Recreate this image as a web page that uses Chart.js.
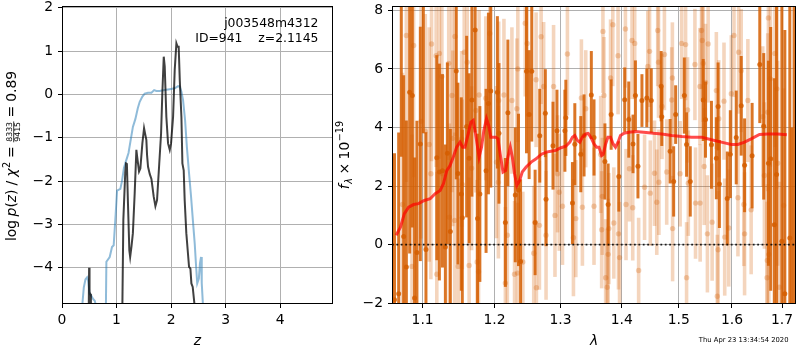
<!DOCTYPE html>
<html><head><meta charset="utf-8">
<script src="https://cdn.jsdelivr.net/npm/chart.js@4.4.1/dist/chart.umd.min.js"></script>
<style>
html,body{margin:0;padding:0;background:#fff;width:800px;height:350px;overflow:hidden;}
#wrapL{position:absolute;left:0;top:0;width:340px;height:350px;}
#wrapR{position:absolute;left:320px;top:0;width:480px;height:350px;}
</style></head><body>
<div id="wrapL"><canvas id="cL" width="340" height="350"></canvas></div>
<div id="wrapR"><canvas id="cR" width="480" height="350"></canvas></div>
<script>
// ---------- Left panel: log p(z) ----------
const zTicks = [0, 1, 2, 3, 4];
const logpTicks = [-4, -3, -2, -1, 0, 1, 2];
const zBlue = [0.30,0.374,0.40,0.43,0.46,0.48,0.505,0.54,0.57,0.60,0.63,0.66,0.78,0.805,0.814,0.875,0.917,0.948,0.985,1.01,1.07,1.10,1.135,1.17,1.22,1.26,1.30,1.345,1.39,1.425,1.474,1.517,1.578,1.64,1.69,1.73,1.79,1.88,1.976,2.067,2.13,2.16,2.19,2.22,2.257,2.29,2.33,2.367,2.40,2.434,2.46,2.48,2.51,2.53,2.55,2.563,2.587,2.62];
const pBlue = [-6.5,-4.83,-4.45,-4.27,-4.22,-4.30,-4.60,-4.65,-4.72,-4.76,-4.90,-6.5,-6.5,-4.90,-3.86,-3.75,-3.52,-3.48,-2.75,-2.22,-2.18,-2.00,-1.70,-1.55,-1.35,-1.05,-0.75,-0.57,-0.32,-0.17,-0.05,0.02,0.04,0.04,0.10,0.08,0.08,0.10,0.12,0.14,0.19,0.18,0.06,-0.13,-0.59,-1.21,-1.82,-2.36,-2.90,-3.44,-3.98,-4.36,-4.25,-3.90,-3.75,-4.36,-4.90,-6.5];
const zBlack = [0.48,0.497,0.505,0.515,0.53,
  1.09,1.107,1.125,1.16,1.175,1.19,1.21,1.235,1.25,1.275,
  1.30,1.333,1.364,1.38,1.413,1.437,1.474,1.505,1.523,1.547,
  1.56,1.578,1.61,1.64,1.682,1.713,1.743,1.78,1.817,1.84,
  1.866,1.884,1.914,1.945,1.976,2.0,2.037,2.067,2.098,2.12,
  2.14,2.16,2.19,2.208,2.232,2.25,2.28,2.31,2.33,2.355,
  2.373,2.397,2.434,2.46];
const pBlack = [-6.5,-4.0,-4.55,-4.6,-6.5,
  -6.5,-4.9,-2.9,-1.8,-1.59,-1.6,-2.52,-3.6,-3.75,-3.5,
  -3.2,-2.28,-1.28,-1.45,-1.78,-1.71,-1.13,-0.78,-0.9,-1.05,
  -1.4,-1.67,-1.84,-1.95,-2.36,-2.58,-2.44,-1.67,-0.9,0.02,
  0.87,0.64,-0.52,-1.13,-1.28,-1.13,-0.52,0.56,1.18,1.1,
  1.1,0.33,-0.52,-1.59,-1.75,-2.44,-3.2,-3.67,-3.98,-4.02,
  -4.36,-4.44,-4.9,-6.5];
const objName = 'j003548m4312';
const idLine = 'ID=941    z=2.1145';

// ---------- Right panel: spectrum ----------
const lamTicks = [1.1, 1.2, 1.3, 1.4, 1.5, 1.6, 1.7];
const fluxTicks = [-2, 0, 2, 4, 6, 8];
const lamRange = [1.06, 1.729];
const fluxRange = [-2.024, 8.147];
const zeroLevel = [0, 0];

const darkLam = [1.0600,1.0632,1.0686,1.0720,1.0751,1.0786,1.0829,1.0864,1.0894,1.0925,1.0970,1.1010,1.1045,
  1.1191,1.1226,1.1268,1.1308,1.1335,1.1376,1.1458,1.1481,1.1528,1.1542,1.1603,1.1638,1.1677,1.1723,1.1757,1.1790,1.1879,1.1913,1.1947,
  1.2043,1.2066,1.2160,1.2197,1.2307,1.2355,1.2386,1.2475,1.2515,1.2555,1.2606,
  1.2677,1.2763,1.2774,1.2882,1.2944,1.3069,1.3084,1.3189,1.3227,1.3323,1.3376,1.3494,1.3538,
  1.3718,1.3772,1.3822,1.3951,1.4051,1.4120,1.4193,1.4234,1.4278,1.4347,1.4432,1.4510,1.4685,1.4696,1.4845,1.4909,1.4945,1.5103,1.5144,1.5212,
  1.5452,1.5495,1.5607,1.5700,1.5733,1.5758,1.5909,1.5968,1.6083,1.6180,1.6246,1.6395,
  1.6548,1.6627,1.6722,1.6768,1.6842,1.6888,1.6997,1.7058,1.7161,1.7200,1.7250];
const darkFlux = [-3.0,-1.88,-1.67,9.0,0.28,-0.76,5.20,5.09,-1.82,-0.27,3.44,8.8,-0.16,
  2.97,2.48,2.52,-0.08,3.12,0.45,5.93,2.43,1.73,0.92,4.03,2.95,4.94,7.33,0.89,1.73,2.52,4.82,5.25,
  5.20,3.80,0.76,4.50,1.70,1.87,-0.57,5.92,4.44,5.92,0.76,
  3.72,4.49,1.55,3.38,3.89,3.89,4.33,1.42,3.43,3.09,3.73,5.11,3.66,
  2.84,1.37,4.44,2.33,4.95,4.27,3.44,5.09,2.68,4.92,5.01,4.92,5.41,4.37,3.19,2.16,4.44,5.09,3.42,2.16,
  4.94,4.27,3.41,2.95,4.72,2.07,1.58,3.09,3.66,4.74,2.71,3.04,
  6.15,4.04,2.78,2.93,0.68,2.40,0.12,-1.67,0.23,-4.0,9.0];
const darkErr = [6.0,5.0,5.5,6.0,5.5,5.0,5.5,4.5,4.8,4.5,4.0,5.0,4.0,
  3.5,3.7,3.3,3.5,3.1,3.5,3.7,3.1,3.3,3.0,3.1,2.9,3.3,3.5,2.9,3.0,2.8,3.1,3.3,
  2.6,2.4,2.2,2.5,2.3,2.6,2.8,2.8,2.2,2.4,1.8,
  1.6,1.5,1.6,1.5,1.4,1.4,1.3,1.4,1.4,1.3,1.4,1.5,1.3,
  1.3,1.4,1.2,1.2,1.1,1.3,1.0,1.2,1.1,0.9,1.0,1.1,1.2,1.0,1.1,1.2,1.0,1.3,1.1,1.2,
  1.4,1.3,1.5,1.4,1.5,1.5,1.6,1.5,1.6,1.7,1.6,1.8,
  2.0,2.5,3.5,4.5,5.0,6.0,8.0,9.0,9.0,8.0,12.0];

const lightLam = [
  1.0735,1.0786,1.0860,1.0881,1.0979,1.1036,1.1088,1.1111,1.1120,1.1182,
  1.1191,1.1226,1.1260,1.1354,1.1362,1.1399,1.1409,1.1436,1.1440,1.1485,
  1.1533,1.1542,1.1569,1.1611,1.1638,1.1673,1.1733,1.1751,1.1771,1.1779,
  1.1875,1.1933,1.2029,1.2058,1.2062,1.2139,1.2160,1.2189,1.2257,1.2296,
  1.2330,1.2340,1.2345,1.2420,1.2456,1.2485,1.2585,1.2621,1.2626,1.2672,
  1.2698,1.2737,1.2774,1.2891,1.2913,1.2953,1.2980,1.3031,1.3109,1.3205,
  1.3243,1.3333,1.3349,1.3403,1.3538,1.3648,1.3664,1.3674,1.3685,1.3702,
  1.3730,1.3756,1.3772,1.3784,1.3812,1.3850,1.3867,1.3938,1.3945,1.3963,
  1.4063,1.4073,1.4132,1.4176,1.4188,1.4222,1.4290,1.4393,1.4449,1.4480,
  1.4493,1.4567,1.4607,1.4624,1.4638,1.4645,1.4700,1.4743,1.4784,1.4874,
  1.4886,1.4890,1.5026,1.5054,1.5126,1.5144,1.5162,1.5176,1.5298,1.5309,
  1.5391,1.5395,1.5421,1.5434,1.5452,1.5471,1.5495,1.5531,1.5545,1.5620,
  1.5700,1.5718,1.5733,1.5746,1.5846,1.5860,1.5937,1.5987,1.6039,1.6116,
  1.6130,1.6180,1.6232,1.6246,1.6311,1.6376,1.6607,1.6641,1.6694,1.6700,
  1.6708,1.6722,1.6730,1.6762,1.6854,1.6894,1.6910,1.6944,1.7032];
const lightFlux = [
  1.37,7.14,-0.74,6.80,4.21,3.87,3.42,2.42,6.85,6.45,
  -1.01,6.53,5.74,6.19,0.94,5.09,3.63,0.83,7.11,-0.74,
  3.61,2.06,6.57,6.23,-0.71,2.61,4.58,-0.59,-0.92,5.11,
  5.00,7.21,2.82,2.13,4.92,5.11,-1.31,0.32,4.92,-1.01,
  4.64,-0.97,6.00,-0.59,7.56,6.87,-0.29,5.63,-1.47,0.66,
  7.10,5.40,0.32,5.40,1.00,2.42,1.79,1.31,6.51,0.24,
  0.89,5.01,1.28,4.64,1.31,3.08,0.51,1.65,7.28,5.09,
  -1.13,-1.45,-0.33,0.55,5.69,7.51,0.74,6.45,0.37,-0.44,
  7.36,1.37,2.59,6.97,1.26,6.87,-0.88,1.96,6.08,6.60,
  1.76,2.44,1.45,7.31,6.23,2.13,4.72,6.49,2.48,4.94,
  5.69,0.55,2.42,6.87,6.83,-1.13,4.60,2.10,6.15,1.42,
  5.40,1.42,7.31,6.97,6.19,2.67,5.54,0.37,6.85,0.77,
  5.26,-1.76,-0.17,4.30,4.90,0.26,0.57,5.15,7.14,1.60,
  6.57,5.94,1.37,0.37,4.92,1.19,4.37,2.36,-1.13,-0.54,
  4.52,7.74,-0.33,5.66,6.53,5.32,2.78,-1.45,1.34];
const lightErr = [
  4.5,5.0,4.5,4.5,4.0,4.0,4.0,3.6,4.0,3.8,
  3.5,3.6,3.4,3.3,3.2,3.3,3.0,3.0,3.4,3.0,
  3.0,2.9,3.2,3.0,3.0,2.8,2.8,2.8,2.8,2.9,
  2.8,3.0,2.6,2.6,2.7,2.6,2.6,2.5,2.5,2.5,
  2.4,2.4,2.5,2.4,2.5,2.5,2.3,2.3,2.3,2.2,
  2.3,2.2,2.2,2.1,2.1,2.0,2.0,2.0,2.1,2.0,
  2.0,2.0,2.0,2.0,2.0,2.0,2.0,2.0,2.1,2.0,
  2.0,2.0,1.9,1.9,2.0,2.1,1.9,2.0,1.9,1.9,
  2.0,1.9,1.8,2.0,1.8,1.9,1.8,1.8,1.9,1.9,
  1.8,1.8,1.8,1.9,1.9,1.8,1.8,1.9,1.8,1.8,
  1.9,1.8,1.8,1.9,1.9,1.9,1.8,1.8,1.9,1.9,
  2.0,2.0,2.0,2.0,2.0,2.0,2.0,2.0,2.0,2.0,
  2.0,2.1,2.0,2.0,2.0,2.0,2.0,2.0,2.1,2.0,
  2.1,2.1,2.1,2.1,2.1,2.2,2.4,2.5,2.6,2.6,
  2.7,2.8,2.8,3.0,3.2,3.4,3.5,3.6,4.0];

const modelLam = [1.0653,1.0709,1.0760,1.0816,1.0881,1.0946,1.1023,1.1102,1.1169,1.1237,1.1281,1.1327,1.1372,1.1417,1.1463,1.1510,1.1547,1.1579,1.1625,1.1663,1.1695,1.1729,1.1757,1.1779,1.1814,1.1847,1.1885,1.1917,1.1947,1.1980,1.2019,1.2052,1.2091,1.2125,1.2164,1.2197,1.2233,1.2263,1.2296,1.2330,1.2371,1.2411,1.2470,1.2546,1.2621,1.2698,1.2774,1.2851,1.2928,1.3006,1.3084,1.3148,1.3189,1.3227,1.3268,1.3307,1.3349,1.3403,1.3444,1.3484,1.3538,1.3581,1.3620,1.3664,1.3690,1.3730,1.3767,1.3812,1.3855,1.3895,1.3938,1.3979,1.4035,1.4120,1.4234,1.4376,1.4550,1.4696,1.4874,1.5054,1.5236,1.5421,1.5607,1.5795,1.5987,1.6116,1.6246,1.6376,1.6542,1.6708,1.6910,1.7099];
const modelFlux = [0.32,0.60,1.06,1.28,1.37,1.40,1.51,1.57,1.74,1.85,2.08,2.53,2.70,2.99,3.33,3.50,3.33,3.33,3.78,4.18,4.24,3.78,3.33,2.99,3.33,3.90,4.30,4.07,3.67,3.67,3.67,3.61,2.99,2.48,2.53,2.99,3.33,2.99,2.42,2.02,2.19,2.48,2.65,2.82,2.93,3.08,3.16,3.19,3.22,3.31,3.36,3.50,3.67,3.73,3.56,3.50,3.67,3.78,3.80,3.67,3.44,3.33,3.33,3.04,3.08,3.44,3.67,3.67,3.44,3.33,3.50,3.73,3.80,3.84,3.86,3.84,3.80,3.78,3.73,3.69,3.67,3.67,3.58,3.50,3.42,3.42,3.50,3.61,3.76,3.78,3.78,3.75];
const timeStamp = 'Thu Apr 23 13:34:54 2020';

// ---------- helpers ----------
const FAM = '"DejaVu Sans", sans-serif';
const FS = 13.9;
const pts = (xs, ys) => xs.map((x, i) => ({x, y: ys[i]}));
const fmtNum = v => (v < 0 ? '\u2212' + Math.abs(v) : String(v));
const gridOpts = {color: '#b0b0b0', lineWidth: 1, tickColor: '#000', tickLength: 4, tickWidth: 1, drawTicks: true};
const tickFont = {family: FAM, size: FS};

const frame = {
  id: 'frame',
  afterDraw(chart) {
    const {ctx, chartArea: a} = chart;
    ctx.save();
    ctx.strokeStyle = '#000'; ctx.lineWidth = 1;
    const l = Math.round(a.left) + 0.5, t = Math.round(a.top) + 0.5;
    const r = Math.round(a.right) - 0.5, b = Math.round(a.bottom) - 0.5;
    ctx.strokeRect(l, t, r - l, b - t);
    ctx.restore();
  }
};

const errorBars = {
  id: 'errorBars',
  beforeDatasetDraw(chart, args) {
    const ds = chart.data.datasets[args.index];
    if (!ds.errors) return;
    const {ctx, chartArea: a, scales: {x, y}} = chart;
    ctx.save();
    ctx.beginPath(); ctx.rect(a.left, a.top, a.right - a.left, a.bottom - a.top); ctx.clip();
    ctx.strokeStyle = ds.errorColor; ctx.lineWidth = ds.errorWidth; ctx.lineCap = 'butt';
    ds.data.forEach((p, i) => {
      const px = x.getPixelForValue(p.x);
      ctx.beginPath();
      ctx.moveTo(px, y.getPixelForValue(p.y - ds.errors[i]));
      ctx.lineTo(px, y.getPixelForValue(p.y + ds.errors[i]));
      ctx.stroke();
    });
    ctx.restore();
  }
};

function drawRotated(ctx, cy, baseX, segs) {
  ctx.save();
  ctx.translate(baseX, cy);
  ctx.rotate(-Math.PI / 2);
  ctx.fillStyle = '#000'; ctx.strokeStyle = '#000';
  ctx.textBaseline = 'alphabetic'; ctx.textAlign = 'left';
  let total = 0;
  segs.forEach(s => {
    ctx.font = s.font;
    s.w = s.frac ? Math.max(ctx.measureText(s.num).width, ctx.measureText(s.den).width) + 1 : ctx.measureText(s.t).width;
    total += s.w + (s.gap || 0);
  });
  let u = -total / 2;
  segs.forEach(s => {
    ctx.font = s.font;
    if (s.frac) {
      const wn = ctx.measureText(s.num).width, wd = ctx.measureText(s.den).width;
      ctx.fillText(s.num, u + (s.w - wn) / 2, s.numY);
      ctx.fillText(s.den, u + (s.w - wd) / 2, s.denY);
      ctx.lineWidth = 0.8;
      ctx.beginPath(); ctx.moveTo(u, s.barY); ctx.lineTo(u + s.w, s.barY); ctx.stroke();
    } else {
      ctx.fillText(s.t, u, s.dy || 0);
    }
    u += s.w + (s.gap || 0);
  });
  ctx.restore();
}

const N = `${FS}px ${FAM}`, I = `italic ${FS}px ${FAM}`, S = `9.7px ${FAM}`, SI = `italic 9.7px ${FAM}`, F = `7.8px ${FAM}`;

const leftText = {
  id: 'leftText',
  afterDraw(chart) {
    const ctx = chart.ctx;
    drawRotated(ctx, 156, 15.5, [
      {t: 'log', font: N, gap: 3.5},
      {t: 'p', font: I},
      {t: '(', font: N},
      {t: 'z', font: I},
      {t: ')', font: N, gap: 4},
      {t: '/', font: N, gap: 4},
      {t: '\u03c7', font: I, gap: 0.5},
      {t: '2', font: S, dy: -5.5, gap: 4},
      {t: '=', font: N, gap: 4},
      {frac: true, num: '8333', den: '9415', font: F, numY: -3.2, denY: 4.6, barY: -1.8, gap: 4},
      {t: '=', font: N, gap: 4},
      {t: '0.89', font: N}
    ]);
    ctx.save();
    ctx.fillStyle = '#000';
    ctx.font = `italic ${FS}px ${FAM}`; ctx.textAlign = 'center'; ctx.textBaseline = 'alphabetic';
    ctx.fillText('z', (chart.chartArea.left + chart.chartArea.right) / 2, 344.5);
    ctx.font = `12.4px ${FAM}`; ctx.textAlign = 'right';
    ctx.fillText(objName, 318.5, 27.3);
    ctx.fillText(idLine, 318.5, 41.8);
    ctx.restore();
  }
};

const rightText = {
  id: 'rightText',
  afterDraw(chart) {
    const ctx = chart.ctx;
    drawRotated(ctx, 155, 348.5 - 320, [
      {t: 'f', font: I, gap: 0.5},
      {t: '\u03bb', font: SI, dy: 3, gap: 3.5},
      {t: '\u00d7', font: N, gap: 3.5},
      {t: '10', font: N, gap: 0.5},
      {t: '\u221219', font: S, dy: -5.5}
    ]);
    ctx.save();
    ctx.fillStyle = '#000';
    ctx.font = `italic ${FS}px ${FAM}`; ctx.textAlign = 'center'; ctx.textBaseline = 'alphabetic';
    ctx.fillText('\u03bb', (chart.chartArea.left + chart.chartArea.right) / 2, 344.5);
    ctx.font = `6.8px ${FAM}`; ctx.textAlign = 'right';
    ctx.fillText(timeStamp, 788.5 - 320, 341.5);
    ctx.restore();
  }
};

Chart.defaults.font.family = FAM;
Chart.defaults.color = '#000';

// ---------- Left chart ----------
new Chart(document.getElementById('cL'), {
  type: 'scatter',
  data: {
    datasets: [
      {data: pts(zBlack, pBlack), showLine: true, borderColor: 'rgba(0,0,0,0.75)', borderWidth: 2, pointRadius: 0, order: 0, clip: 0},
      {data: pts(zBlue, pBlue), showLine: true, borderColor: 'rgba(31,119,180,0.5)', borderWidth: 2, pointRadius: 0, order: 1, clip: 0}
    ]
  },
  options: {
    responsive: false, animation: false, devicePixelRatio: 1, events: [],
    layout: {padding: {left: 0, right: 7, top: 6, bottom: 0}},
    plugins: {legend: {display: false}, tooltip: {enabled: false}},
    scales: {
      x: {
        type: 'linear', min: 0, max: 4.97,
        afterBuildTicks: s => { s.ticks = zTicks.map(v => ({value: v})); },
        afterFit: s => { s.height = 46; s.paddingLeft = 0; s.paddingRight = 0; },
        grid: gridOpts, border: {display: false},
        ticks: {font: tickFont, color: '#000', padding: 4, maxRotation: 0, autoSkip: false, callback: v => fmtNum(v)}
      },
      y: {
        type: 'linear', min: -4.835, max: 2.04,
        afterBuildTicks: s => { s.ticks = logpTicks.map(v => ({value: v})); },
        afterFit: s => { s.width = 62; s.paddingTop = 0; s.paddingBottom = 0; },
        grid: gridOpts, border: {display: false},
        ticks: {font: tickFont, color: '#000', padding: 5, autoSkip: false, callback: v => fmtNum(v)}
      }
    }
  },
  plugins: [frame, leftText]
});

// ---------- Right chart ----------
new Chart(document.getElementById('cR'), {
  type: 'scatter',
  data: {
    datasets: [
      {data: pts(modelLam, modelFlux), showLine: true, borderColor: 'rgba(255,0,0,0.7)', borderWidth: 3, pointRadius: 0, order: 0, clip: 0},
      {data: pts(lamRange, zeroLevel), showLine: true, borderColor: 'rgba(0,0,0,0.85)', borderWidth: 1.8, borderDash: [1.8, 2.6], pointRadius: 0, order: 1, clip: 0},
      {data: pts(darkLam, darkFlux), errors: darkErr, errorColor: 'rgba(213,94,0,0.85)', errorWidth: 3,
       backgroundColor: 'rgba(213,94,0,0.85)', borderWidth: 0, pointRadius: 2.5, order: 2, clip: 0},
      {data: pts(lightLam, lightFlux), errors: lightErr, errorColor: 'rgba(213,94,0,0.26)', errorWidth: 3.6,
       backgroundColor: 'rgba(213,94,0,0.28)', borderWidth: 0, pointRadius: 2.7, order: 3, clip: 0}
    ]
  },
  options: {
    responsive: false, animation: false, devicePixelRatio: 1, events: [],
    layout: {padding: {left: 0, right: 1, top: 6, bottom: 0}},
    plugins: {legend: {display: false}, tooltip: {enabled: false}},
    scales: {
      x: {
        type: 'logarithmic', min: lamRange[0], max: lamRange[1],
        afterBuildTicks: s => { s.ticks = lamTicks.map(v => ({value: v})); },
        afterFit: s => { s.height = 46; s.paddingLeft = 0; s.paddingRight = 0; },
        grid: gridOpts, border: {display: false},
        ticks: {font: tickFont, color: '#000', padding: 4, maxRotation: 0, autoSkip: false, callback: v => Number(v).toFixed(1)}
      },
      y: {
        type: 'linear', min: fluxRange[0], max: fluxRange[1],
        afterBuildTicks: s => { s.ticks = fluxTicks.map(v => ({value: v})); },
        afterFit: s => { s.width = 72; s.paddingTop = 0; s.paddingBottom = 0; },
        grid: gridOpts, border: {display: false},
        ticks: {font: tickFont, color: '#000', padding: 5, autoSkip: false, callback: v => fmtNum(v)}
      }
    }
  },
  plugins: [errorBars, frame, rightText]
});
</script>
</body></html>
